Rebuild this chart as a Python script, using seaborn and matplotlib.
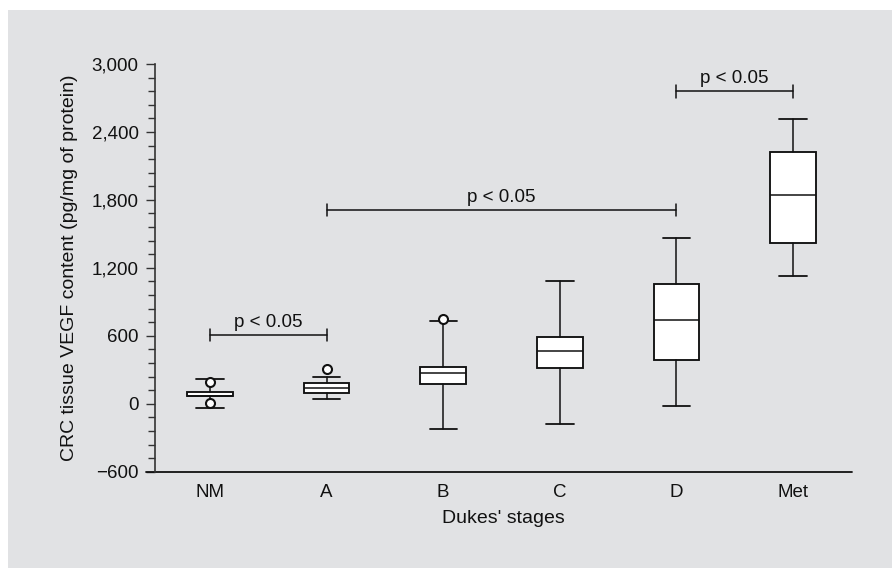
import matplotlib
matplotlib.use("Agg")
import matplotlib.pyplot as plt
from matplotlib.patches import Rectangle
from matplotlib.lines import Line2D
from matplotlib.ticker import MultipleLocator, FuncFormatter
import seaborn as sns
import pandas as pd

# ---- data ----
stages = ["NM", "A", "B", "C", "D", "Met"]
q1 = [66, 93, 175, 316, 389, 1423]
median = [66, 140, 269, 464, 743, 1846]
q3 = [104, 181, 328, 590, 1058, 2226]
whisker_low = [-36, 40, -220, -176, -19, 1131]
whisker_high = [219, 239, 734, 1082, 1464, 2515]
outlier_stage = ["NM", "NM", "A", "B"]
outlier_value = [190, 4, 307, 745]

brackets_left = ["NM", "A", "D"]
brackets_right = ["A", "D", "Met"]
brackets_y = [605, 1712, 2758]
brackets_text = ["p < 0.05", "p < 0.05", "p < 0.05"]

yticks = [-600, 0, 600, 1200, 1800, 2400, 3000]

# ---- style ----
sns.set_theme(style="ticks")
plt.rcParams["font.family"] = ["Liberation Sans", "DejaVu Sans"]
BG = "#e1e2e4"
INK = "#111111"

fig = plt.figure(figsize=(8.92, 5.68), dpi=100, facecolor="white")
fig.patches.append(Rectangle((8 / 892, 0), 1, 1 - 10 / 568, transform=fig.transFigure,
                             facecolor=BG, edgecolor="none", zorder=-10))
ax = fig.add_axes([155 / 892, 1 - 471.7 / 568, 697 / 892, (471.7 - 64) / 568])
ax.set_facecolor("none")

pos = {s: i for i, s in enumerate(stages)}
stats = []
for i, s in enumerate(stages):
    stats.append(dict(label=s, q1=q1[i], med=median[i], q3=q3[i],
                      whislo=whisker_low[i], whishi=whisker_high[i], fliers=[]))

ax.bxp(stats, positions=list(range(len(stages))), widths=0.39, capwidths=0.235,
       patch_artist=True, showfliers=False,
       boxprops=dict(facecolor="white", edgecolor=INK, linewidth=1.35),
       medianprops=dict(color=INK, linewidth=1.1),
       whiskerprops=dict(color=INK, linewidth=1.1),
       capprops=dict(color=INK, linewidth=1.3))

odf = pd.DataFrame({"x": [pos[s] for s in outlier_stage], "y": outlier_value})
sns.scatterplot(data=odf, x="x", y="y", ax=ax, s=42, marker="o",
                facecolor="white", edgecolor=INK, linewidth=1.5, zorder=5)

# significance brackets
for l, r, y, t in zip(brackets_left, brackets_right, brackets_y, brackets_text):
    x0, x1 = pos[l], pos[r]
    ax.plot([x0, x1], [y, y], color=INK, lw=1.1)
    for xx in (x0, x1):
        ax.plot([xx, xx], [y - 55, y + 55], color=INK, lw=1.1)
    ax.annotate(t, xy=((x0 + x1) / 2, y), xytext=(0, 3), textcoords="offset points",
                ha="center", va="bottom", fontsize=13.5, color=INK)

ax.set_xlim(-0.472, 5.506)
ax.set_ylim(-600, 3000)
ax.set_xticks(range(len(stages)))
ax.set_xticklabels(stages)
ax.set_yticks(yticks)
ax.yaxis.set_major_formatter(FuncFormatter(lambda v, p: ("\u2212" if v < 0 else "") + f"{abs(int(v)):,}"))
ax.yaxis.set_minor_locator(MultipleLocator(120))
ax.tick_params(axis="y", which="major", length=6.7, width=1.0, color="#333333",
               labelsize=13.5, labelcolor=INK, pad=5)
ax.tick_params(axis="y", which="minor", length=5, width=1.0, color="#333333")
ax.tick_params(axis="x", length=0, labelsize=13.5, labelcolor=INK, pad=9)

for side in ("top", "right", "bottom"):
    ax.spines[side].set_visible(False)
ax.spines["left"].set_color("#333333")
ax.spines["left"].set_linewidth(1.2)
ax.add_line(Line2D([-9 / 697, 1], [0, 0], transform=ax.transAxes, color=INK,
                   lw=1.3, clip_on=False))

ax.set_xlabel("Dukes' stages", fontsize=14, color=INK, labelpad=6)
ax.set_ylabel("CRC tissue VEGF content (pg/mg of protein)", fontsize=14, color=INK, labelpad=10)

fig.savefig("out.png", dpi=100, facecolor=fig.get_facecolor())
